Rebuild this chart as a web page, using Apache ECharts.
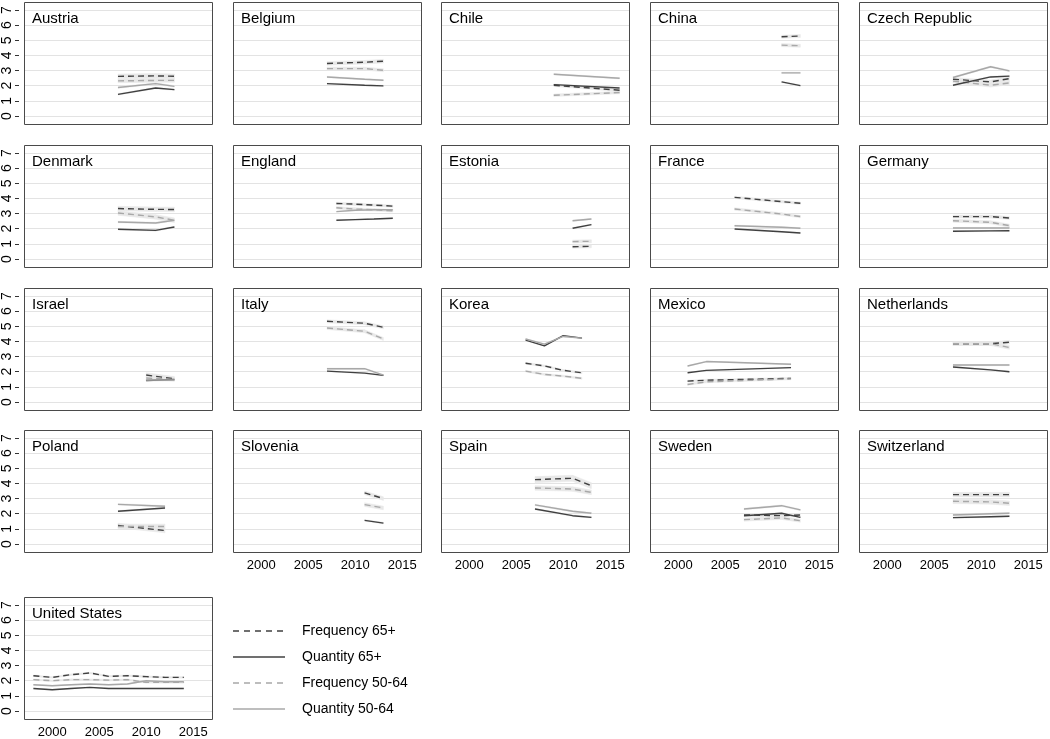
<!DOCTYPE html>
<html>
<head>
<meta charset="utf-8">
<script src="https://cdn.jsdelivr.net/npm/echarts@6/dist/echarts.min.js"></script>
<style>
  body { margin: 0; background: #fff; }
  #main { width: 1050px; height: 739px; }
</style>
</head>
<body>
<div id="main"></div>
<script>
// 国家（面板顺序）
var countries = ['Austria', 'Belgium', 'Chile', 'China', 'Czech Republic',
    'Denmark', 'England', 'Estonia', 'France', 'Germany',
    'Israel', 'Italy', 'Korea', 'Mexico', 'Netherlands',
    'Poland', 'Slovenia', 'Spain', 'Sweden', 'Switzerland',
    'United States'];

// 调查年份
var years = [
    [2007, 2011, 2013], [2007, 2011, 2013], [2009, 2016], [2011, 2013], [2007, 2011, 2013],
    [2007, 2011, 2013], [2008, 2010, 2012, 2014], [2011, 2013], [2006, 2011, 2013], [2007, 2011, 2013],
    [2010, 2013], [2007, 2011, 2013], [2006, 2008, 2010, 2012], [2001, 2003, 2012], [2007, 2011, 2013],
    [2007, 2012], [2011, 2013], [2007, 2011, 2013], [2007, 2011, 2013], [2007, 2011, 2013],
    [1998, 2000, 2002, 2004, 2006, 2008, 2010, 2012, 2014]
];

// Frequency 65+
var freq65 = [
    [2.62, 2.65, 2.62], [3.47, 3.55, 3.62], [2.03, 1.70], [5.23, 5.28], [2.43, 2.25, 2.47],
    [3.33, 3.28, 3.27], [3.67, 3.62, 3.56, 3.49], [0.81, 0.84], [4.07, 3.79, 3.68], [2.80, 2.80, 2.71],
    [1.78, 1.53], [5.33, 5.20, 4.93], [2.56, 2.38, 2.09, 1.93], [1.38, 1.44, 1.56], [3.85, 3.85, 3.95],
    [1.22, 0.89], [3.38, 3.00], [4.25, 4.34, 3.85], [1.92, 1.87, 1.92], [3.26, 3.26, 3.26],
    [2.33, 2.22, 2.40, 2.51, 2.29, 2.33, 2.27, 2.22, 2.22]
];

// Quantity 65+
var qty65 = [
    [1.43, 1.85, 1.74], [2.14, 2.03, 1.99], [2.07, 1.85], [2.25, 2.01], [2.03, 2.58, 2.63],
    [1.96, 1.89, 2.11], [2.56, 2.60, 2.64, 2.69], [2.03, 2.27], [1.98, 1.80, 1.72], [1.83, 1.86, 1.87],
    [1.42, 1.49], [2.04, 1.91, 1.76], [4.09, 3.71, 4.38, 4.22], [1.93, 2.09, 2.27], [2.31, 2.12, 2.00],
    [2.16, 2.38], [1.56, 1.38], [2.31, 1.87, 1.76], [1.87, 2.03, 1.76], [1.74, 1.80, 1.83],
    [1.49, 1.40, 1.49, 1.56, 1.49, 1.49, 1.49, 1.49, 1.49]
];

// Frequency 50-64
var freq5064 = [
    [2.32, 2.35, 2.35], [3.13, 3.13, 3.02], [1.37, 1.55], [4.68, 4.64], [2.30, 2.03, 2.19],
    [3.04, 2.78, 2.56], [3.38, 3.30, 3.25, 3.18], [1.15, 1.17], [3.30, 2.97, 2.80], [2.53, 2.42, 2.20],
    [1.58, 1.50], [4.89, 4.67, 4.16], [2.04, 1.82, 1.71, 1.56], [1.16, 1.33, 1.53], [3.85, 3.85, 3.60],
    [1.16, 1.16], [2.60, 2.38], [3.70, 3.63, 3.41], [1.61, 1.72, 1.54], [2.82, 2.78, 2.69],
    [2.07, 2.00, 2.07, 2.07, 2.04, 2.07, 1.89, 1.89, 1.89]
];

// Quantity 50-64
var qty5064 = [
    [1.88, 2.14, 1.96], [2.58, 2.43, 2.36], [2.76, 2.49], [2.85, 2.85], [2.54, 3.25, 2.98],
    [2.44, 2.38, 2.56], [3.13, 3.22, 3.25, 3.25], [2.53, 2.64], [2.20, 2.10, 2.03], [2.05, 2.05, 2.05],
    [1.45, 1.45], [2.20, 2.20, 1.78], [4.16, 3.82, 4.33, 4.22], [2.38, 2.67, 2.49], [2.44, 2.44, 2.44],
    [2.62, 2.49], [null, null], [2.58, 2.16, 2.03], [2.31, 2.53, 2.25], [1.92, 2.00, 2.03],
    [1.73, 1.67, 1.73, 1.78, 1.73, 1.78, 2.00, 1.93, 1.93]
];

// 置信区间半宽 [freq65, qty65, freq5064, qty5064]
var ciHalf = [
    [0.15, 0.05, 0.12, 0.05], [0.12, 0.04, 0.10, 0.04], [0.08, 0.04, 0.08, 0.04], [0.10, 0.04, 0.10, 0.04], [0.12, 0.05, 0.12, 0.05],
    [0.15, 0.05, 0.15, 0.05], [0.08, 0.03, 0.08, 0.03], [0.10, 0.04, 0.10, 0.04], [0.08, 0.04, 0.08, 0.04], [0.10, 0.04, 0.10, 0.04],
    [0.15, 0.05, 0.12, 0.05], [0.10, 0.04, 0.10, 0.04], [0.06, 0.03, 0.06, 0.03], [0.06, 0.03, 0.06, 0.03], [0.12, 0.04, 0.12, 0.04],
    [0.15, 0.05, 0.15, 0.05], [0.12, 0.05, 0.12, 0.05], [0.20, 0.05, 0.15, 0.05], [0.10, 0.05, 0.10, 0.05], [0.15, 0.05, 0.15, 0.05],
    [0.05, 0.03, 0.05, 0.03]
];

var seriesNames = ['Frequency 65+', 'Quantity 65+', 'Frequency 50-64', 'Quantity 50-64'];
var seriesValues = [freq65, qty65, freq5064, qty5064];

// 样式
var FONT = '"Liberation Sans", Arial, sans-serif';
var DARK = '#404040';
var LIGHT = '#a8a8a8';
var BAND = '#e8e8e8';
var lineStyles = [
    { color: DARK, width: 1.4, type: [6, 4] },
    { color: DARK, width: 1.4, type: 'solid' },
    { color: LIGHT, width: 1.4, type: [6, 4] },
    { color: LIGHT, width: 1.4, type: 'solid' }
];

// 面板布局
var frameLeft = [24, 233, 441, 650, 859];
var gridTop = [10, 153, 296, 438, 605];
var W = 188, H = 106, PAD = 8;

var chart = echarts.init(document.getElementById('main'));

var grids = [], xAxes = [], yAxes = [], titles = [], series = [], graphics = [];

countries.forEach(function (name, i) {
    var row = Math.floor(i / 5), col = i % 5;
    var showX = (row === 3 && col > 0) || row === 4;
    var showY = col === 0;

    grids.push({ left: frameLeft[col], top: gridTop[row], width: W, height: H });

    xAxes.push({
        type: 'value', gridIndex: i, min: 1997, max: 2017, interval: 1,
        axisLine: { show: false }, axisTick: { show: false }, splitLine: { show: false },
        axisLabel: {
            show: showX, margin: 15, fontSize: 13, color: '#000', fontFamily: FONT,
            formatter: function (v) { return v % 5 === 0 ? String(v) : ''; }
        }
    });

    yAxes.push({
        type: 'value', gridIndex: i, min: 0, max: 7, interval: 1, offset: 5,
        axisLine: { show: false },
        axisTick: { show: showY, length: 4, lineStyle: { color: '#333' } },
        axisLabel: { show: showY, rotate: 90, margin: 5, fontSize: 14, color: '#000', fontFamily: FONT },
        splitLine: { show: true, lineStyle: { color: '#e3e3e3', width: 1 } }
    });

    titles.push({
        text: name, left: frameLeft[col] + 8, top: gridTop[row] + 1, padding: 0,
        textStyle: { fontSize: 15, fontWeight: 'normal', color: '#000', fontFamily: FONT }
    });

    // 面板边框
    graphics.push({
        type: 'rect', z: 100, silent: true,
        shape: { x: frameLeft[col] + 0.5, y: gridTop[row] - PAD + 0.5, width: W, height: H + 2 * PAD },
        style: { fill: 'none', stroke: '#4a4a4a', lineWidth: 1 }
    });

    seriesValues.forEach(function (arr, k) {
        var vals = arr[i];
        if (vals.every(function (v) { return v == null; })) return;
        var hw = ciHalf[i][k];

        // 置信带：相邻两点之间的四边形
        var segs = [];
        for (var j = 1; j < vals.length; j++) {
            segs.push([years[i][j - 1], vals[j - 1] - hw, vals[j - 1] + hw,
                       years[i][j], vals[j] - hw, vals[j] + hw]);
        }
        series.push({
            type: 'custom', name: seriesNames[k] + ' CI', xAxisIndex: i, yAxisIndex: i,
            silent: true, z: 1,
            encode: { x: [0, 3], y: [1, 2, 4, 5] },
            data: segs,
            renderItem: function (params, api) {
                var p0 = api.coord([api.value(0), api.value(1)]);
                var p1 = api.coord([api.value(0), api.value(2)]);
                var p2 = api.coord([api.value(3), api.value(5)]);
                var p3 = api.coord([api.value(3), api.value(4)]);
                return {
                    type: 'polygon',
                    shape: { points: [p0, p1, p2, p3] },
                    style: { fill: BAND, stroke: BAND, lineWidth: 0.5 }
                };
            }
        });

        series.push({
            type: 'line', name: seriesNames[k], xAxisIndex: i, yAxisIndex: i,
            silent: true, z: 3 + (k % 2 === 1 ? 1 : 0), symbol: 'none',
            lineStyle: lineStyles[k],
            data: years[i].map(function (y, j) { return [y, vals[j]]; })
        });
    });
});

// 图例
var legendY = [631, 657, 683, 709];
seriesNames.forEach(function (n, k) {
    graphics.push({
        type: 'line', silent: true,
        shape: { x1: 233, y1: legendY[k], x2: 285, y2: legendY[k] },
        style: { stroke: lineStyles[k].color, lineWidth: 1.5, lineDash: k % 2 === 0 ? [6, 5] : null }
    });
    graphics.push({
        type: 'text', silent: true, x: 302, y: legendY[k],
        style: { text: n, fill: '#000', font: '14px ' + FONT, textVerticalAlign: 'middle' }
    });
});

chart.setOption({
    animation: false,
    backgroundColor: '#fff',
    title: titles,
    grid: grids,
    xAxis: xAxes,
    yAxis: yAxes,
    series: series,
    graphic: graphics
});
</script>
</body>
</html>
